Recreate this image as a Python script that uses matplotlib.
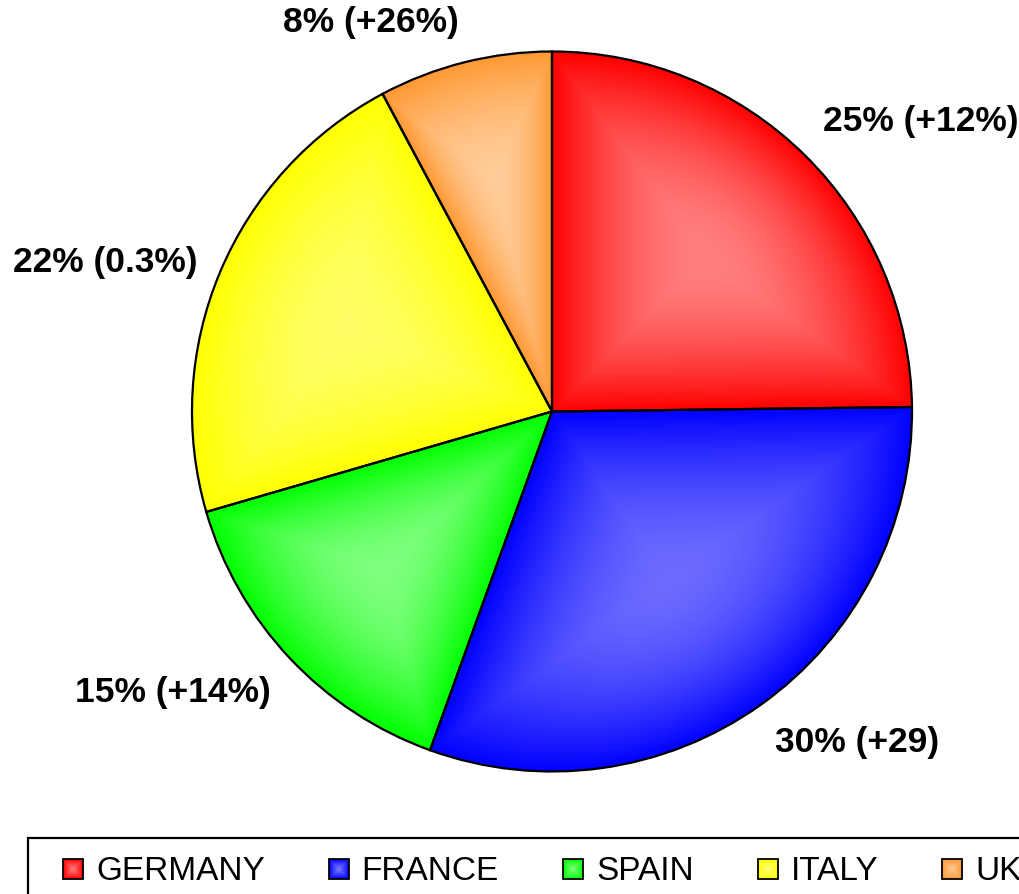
import numpy as np
import matplotlib
matplotlib.use('Agg')
import matplotlib.pyplot as plt
from matplotlib.patches import Rectangle

plt.rcParams['font.family'] = ['Liberation Sans', 'DejaVu Sans']

# data
countries = ['GERMANY', 'FRANCE', 'SPAIN', 'ITALY', 'UK']
shares = [24.8, 30.7, 15.0, 21.7, 7.8]
labels = ['25% (+12%)', '30% (+29)', '15% (+14%)', '22% (0.3%)', '8% (+26%)']
colors = ['#ff0000', '#0000ff', '#00ff00', '#ffff00', '#ff9933']
light_amount = [0.5, 0.42, 0.5, 0.4, 0.5]

W, H = 1020, 895
CX, CY, R = 552, 412.5, 360   # pie centre / radius in pixels


def px(x, y):
    # pixel (from top-left) -> data units (radius = 1)
    return (x - CX) / R, (CY - y) / R


def gauge(poly, c, X, Y):
    # path-gradient parameter: 0 at c, 1 on the polygon boundary
    v = np.asarray(poly)
    e = np.roll(v, -1, axis=0) - v
    n = np.stack([e[:, 1], -e[:, 0]], axis=1)
    d = ((v - c) * n).sum(axis=1)
    keep = np.abs(d) > 1e-9
    n, d = n[keep], d[keep]
    t = np.full(X.shape, -np.inf)
    for ni, di in zip(n, d):
        t = np.maximum(t, ((X - c[0]) * ni[0] + (Y - c[1]) * ni[1]) / di)
    return np.clip(t, 0, 1)


fig = plt.figure(figsize=(W / 100, H / 100), dpi=100)
ax = fig.add_axes([0, 0, 1, 1])

wedges, _ = ax.pie(shares, startangle=90, counterclock=False, radius=1,
                   colors=colors,
                   wedgeprops=dict(edgecolor='black', linewidth=1.6))

x0, y1 = px(0, 0)
x1, y0 = px(W, H)
ax.set_xlim(x0, x1)
ax.set_ylim(y0, y1)
ax.set_aspect('equal')
ax.axis('off')

# shaded fill for every wedge
N = 900
gx = np.linspace(-1.02, 1.02, N)
GX, GY = np.meshgrid(gx, gx)
for w, col, amt in zip(wedges, colors, light_amount):
    th1, th2 = np.radians(w.theta1), np.radians(w.theta2)
    a = np.linspace(th1, th2, 80)
    poly = [(0.0, 0.0)] + list(zip(np.cos(a), np.sin(a)))
    half = (th2 - th1) / 2
    rc = 2 * np.sin(half) / (3 * half)
    mid = (th1 + th2) / 2
    c = np.array([rc * np.cos(mid), rc * np.sin(mid)])
    t = gauge(poly, c, GX, GY) ** 1.8
    base = np.array(matplotlib.colors.to_rgb(col))
    lite = base + amt * (1 - base)
    img = base[None, None, :] * t[..., None] + lite[None, None, :] * (1 - t[..., None])
    im = ax.imshow(img, extent=(-1.02, 1.02, -1.02, 1.02), origin='lower',
                   interpolation='bilinear', zorder=1)
    im.set_clip_path(w)
    w.set_facecolor('none')
    w.set_zorder(3)

# percentage labels outside the pie
for w, lab in zip(wedges, labels):
    mid = np.radians((w.theta1 + w.theta2) / 2)
    cx, cy = np.cos(mid), np.sin(mid)
    if abs(cy) < 0.5:
        va = 'center'
    else:
        va = 'bottom' if cy > 0 else 'top'
    ax.text(1.07 * cx, 1.07 * cy, lab, fontsize=25.5, fontweight='bold',
            ha='left' if cx > 0 else 'right', va=va, zorder=5)

# legend (box runs off the right / bottom edge like the original)
lx, ly = px(28, 839)
ax.add_patch(Rectangle((lx, ly - 1), 3.5, 1, facecolor='white',
                       edgecolor='black', linewidth=1.6, zorder=4,
                       clip_on=False))
renderer = fig.canvas.get_renderer()
m = 20 / R
s = np.linspace(-1, 1, 40)
SX, SY = np.meshgrid(s, s)
tq = np.maximum(np.abs(SX), np.abs(SY))
xpos = 63
mx_y = 860
for name, col in zip(countries, colors):
    mx, my = px(xpos, mx_y + 20)
    base = np.array(matplotlib.colors.to_rgb(col))
    lite = base + 0.5 * (1 - base)
    img = base[None, None, :] * tq[..., None] + lite[None, None, :] * (1 - tq[..., None])
    ax.imshow(img, extent=(mx, mx + m, my, my + m), origin='lower', zorder=5)
    ax.add_patch(Rectangle((mx, my), m, m, facecolor='none', edgecolor='black',
                           linewidth=1.3, zorder=6))
    tx, ty = px(xpos + 33, mx_y + 8)
    txt = ax.text(tx, ty, name, fontsize=24, ha='left', va='center_baseline',
                  zorder=6)
    tw = txt.get_window_extent(renderer).width
    xpos = xpos + 33 + tw + 64

ax.set_xlim(x0, x1)
ax.set_ylim(y0, y1)
fig.savefig('out.png', dpi=100)
